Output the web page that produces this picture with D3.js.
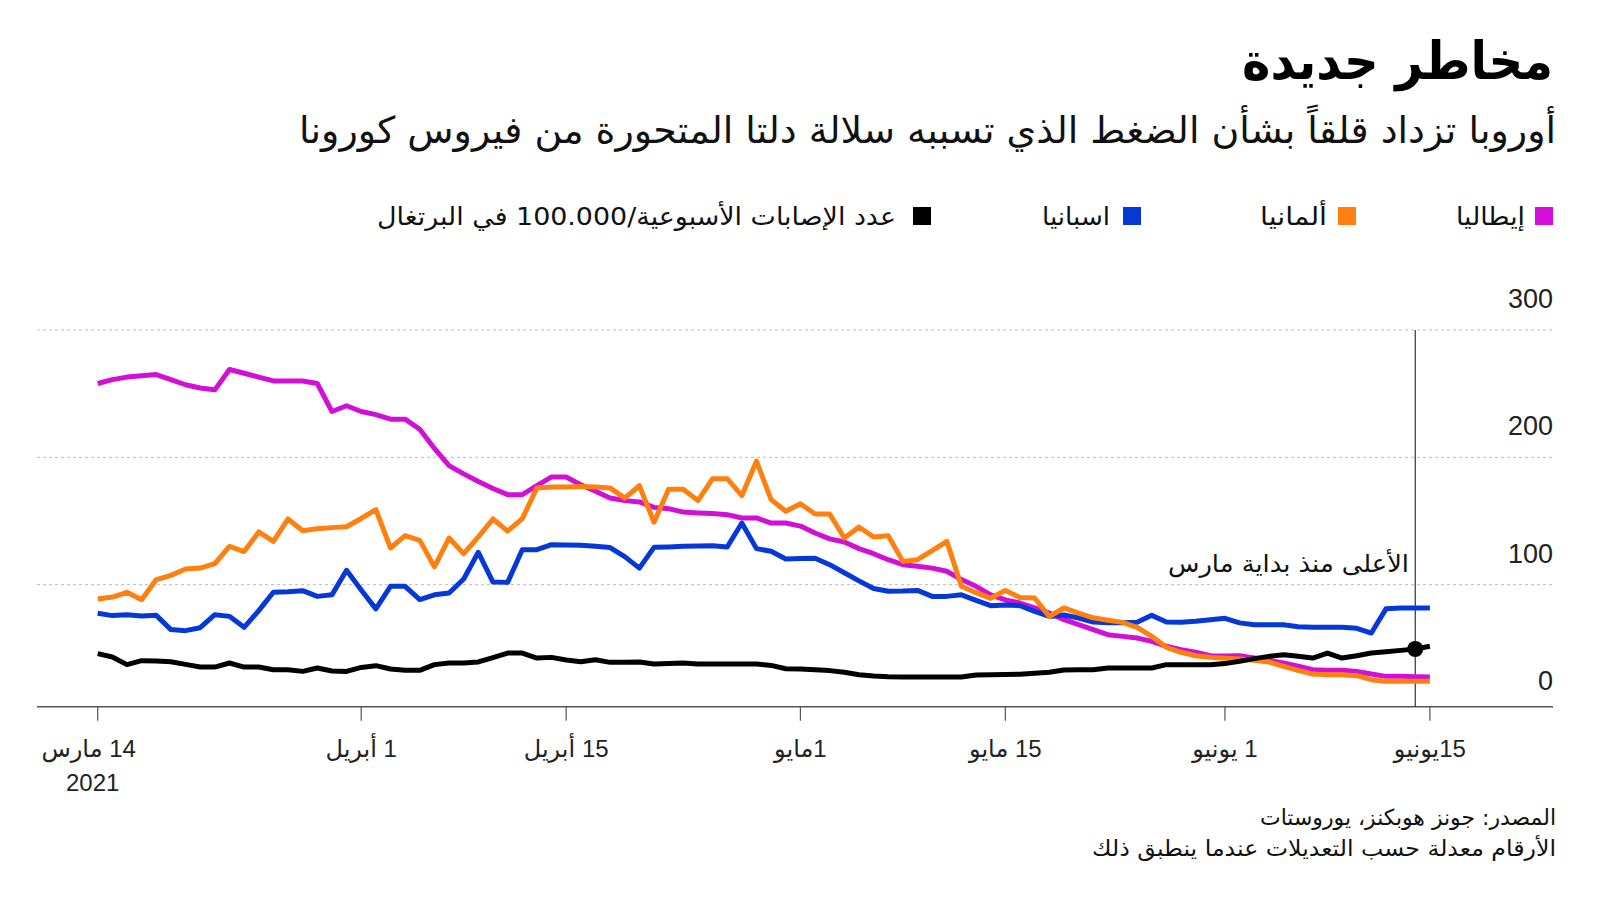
<!DOCTYPE html>
<html><head><meta charset="utf-8">
<script src="https://cdn.jsdelivr.net/npm/d3@7"></script>
<style>html,body{margin:0;padding:0;background:#fff;}svg{display:block;}</style>
</head><body>
<script>
// ---- data (x = day slot index from 14 March 2021) ----
const italy = [258,261,263,264,265,261,257,254.5,253,269,266,263,260,260,260,258,236,240.5,236,233.5,230,230,222,207,193.5,187,181,175.5,170.7,170.7,177.7,184.6,184.6,178.5,173.3,168,166,165,160.7,159.7,157,156.3,155.8,155,152.4,152.4,148.4,148.4,146,140.6,136,133.5,128.3,124.3,119.6,115.7,114.4,113,110.5,104,98.7,92,88,85.6,81.7,77.7,72.5,68.6,64.7,60.7,59.4,58.1,55.5,51.6,49,46.9,44.2,44,44.2,42.4,40.6,38.5,35.9,33.2,32.7,32.7,31.9,29.8,28,28,27.7,27.5];
const germany = [88.7,90.3,94,88.2,104,107.3,112.3,113,116.5,130,126,141.4,134,151.6,142.4,144,144.8,145.5,152,159,128.8,138.5,134.8,114,136.6,124.3,137.5,151.6,142,151.8,176,176.7,176.7,177,176.7,176,168,177.7,149,175,175,166,183.2,183.2,170,197,166.8,157.6,163.6,155.5,155.5,136.6,145.3,137.4,138.5,118.3,119.6,126.7,134,98.7,93.7,89.3,95.5,90,89.5,75,81.7,77.7,74,72,70.4,66.5,59.4,50.8,46.9,44.2,42.9,42.2,41.6,40.6,39.3,35.9,32.7,29.8,29.3,29.3,28.5,25.4,24.1,24.1,24.1,24.1];
const spain = [77.5,75.7,76.4,75.4,75.9,64.7,63.9,66.2,76.4,75.1,66.5,79.6,94,94.5,95.3,90.8,92,111.3,95.8,81,98.7,98.7,88.2,92,93.5,104.5,125.4,102,101.8,127.5,127.5,131.4,131.2,130.9,130.1,129.1,122,113,129.3,129.6,130.1,130.4,130.6,129.6,148.4,128.3,126.2,120.2,120.5,120.7,115.7,109.4,103,97,94.8,95,95.5,90.8,90.8,92,87.7,83.5,84,83.5,79,75,76.2,73.8,70.7,70,70,70.4,75.9,70.7,70.4,71.2,72.5,73.6,70,68.6,68.6,68.6,67,66.5,66.5,66.5,65.7,62,81,81.7,81.7,81.7];
const portugal = [45.8,43.2,37.2,40.3,40.1,39.5,37.4,35.3,35.3,38.5,35.3,35.3,33.2,33.2,31.9,34.6,32.2,31.9,35,36.4,33.8,32.7,32.7,37.2,38.5,38.5,39.3,42.7,46.3,46.3,42.4,42.9,40.8,39.5,41.1,39,39,39.3,37.7,38,38.5,37.7,37.7,37.7,37.7,37.7,36.6,34,33.8,33.2,32.5,31.2,29.3,28.3,27.7,27.5,27.5,27.5,27.5,27.5,29.1,29.3,29.5,29.6,30.4,31.2,33,33.2,33.2,34.6,34.6,34.6,34.6,37.2,37.2,37.2,37.2,38,39.8,41.9,43.7,45,43.7,42.4,46.3,42.4,44.2,46.3,47.4,48.4,49.5,51.6];
const seriesNames = ["إيطاليا", "ألمانيا", "اسبانيا", "عدد الإصابات الأسبوعية/100.000 في البرتغال"];
const seriesColors = ["#d20fd6", "#ff7f0f", "#0638d8", "#000000"];
const tickSlots = [0, 18, 32, 48, 62, 77, 91];
const tickLabels = ["14 مارس", "1 أبريل", "15 أبريل", "1مايو", "15 مايو", "1 يونيو", "15يونيو"];
const yTicks = [0, 100, 200, 300];
const highlightSlot = 90;
const titleText = "مخاطر جديدة";
const subtitleText = "أوروبا تزداد قلقاً بشأن الضغط الذي تسببه سلالة دلتا المتحورة من فيروس كورونا";
const annotationText = "الأعلى منذ بداية مارس";
const sourceText = "المصدر: جونز هوبكنز، يوروستات";
const noteText = "الأرقام معدلة حسب التعديلات عندما ينطبق ذلك";

const RLE = "\u202B", PDF = "\u202C";
const rtl = s => RLE + s + PDF;
const AR = "'DejaVu Sans', sans-serif";
const LAT = "'Liberation Sans', 'DejaVu Sans', sans-serif";

const svg = d3.select("body").append("svg").attr("width", 1600).attr("height", 900);

const x = d3.scaleLinear().domain([0, 91]).range([97.7, 1429.9]);
const y = d3.scaleLinear().domain([0, 300]).range([712, 330]);
const left = 37, right = 1553, axisY = 706.7;

// title
svg.append("text").attr("x", 1553).attr("y", 79).attr("text-anchor", "end")
  .attr("font-family", AR).attr("font-weight", "bold").attr("font-size", 52)
  .attr("textLength", 311).attr("lengthAdjust", "spacingAndGlyphs").text(rtl(titleText));
svg.append("text").attr("x", 1556).attr("y", 143).attr("text-anchor", "end")
  .attr("font-family", AR).attr("font-size", 37).attr("fill", "#111")
  .attr("textLength", 1257).attr("lengthAdjust", "spacingAndGlyphs").text(rtl(subtitleText));

// legend
const legSq = [1535, 1338, 1123, 913];
const legTx = [1525, 1327, 1110, 896];
const legW = [69, 67, 68, 519];
seriesNames.forEach((n, i) => {
  svg.append("rect").attr("x", legSq[i]).attr("y", 207).attr("width", 18).attr("height", 18).attr("fill", seriesColors[i]);
  svg.append("text").attr("x", legTx[i]).attr("y", 225).attr("text-anchor", "end")
    .attr("font-family", AR).attr("font-size", 25).attr("fill", "#111")
    .attr("textLength", legW[i]).attr("lengthAdjust", "spacingAndGlyphs").text(rtl(n));
});

// gridlines
svg.append("g").selectAll("line").data(yTicks.filter(v => v > 0)).join("line")
  .attr("x1", left).attr("x2", right).attr("y1", d => y(d)).attr("y2", d => y(d))
  .attr("stroke", "#bdbdbd").attr("stroke-width", 1).attr("stroke-dasharray", "3,3");
svg.append("g").selectAll("text").data(yTicks).join("text")
  .attr("x", right).attr("y", d => y(d) - 22).attr("text-anchor", "end")
  .attr("font-family", LAT).attr("font-size", 27).attr("fill", "#222").text(d => d);

// x axis
svg.append("line").attr("x1", left).attr("x2", right).attr("y1", axisY).attr("y2", axisY)
  .attr("stroke", "#555").attr("stroke-width", 1.5);
svg.append("g").selectAll("line").data(tickSlots).join("line")
  .attr("x1", d => x(d)).attr("x2", d => x(d)).attr("y1", axisY).attr("y2", axisY + 14)
  .attr("stroke", "#555").attr("stroke-width", 1.2);
svg.append("g").selectAll("text").data(tickSlots).join("text")
  .attr("x", (d, i) => x(d) - (i === 0 ? 9 : 0)).attr("y", 757).attr("text-anchor", "middle")
  .attr("font-family", LAT).attr("font-size", 24).attr("fill", "#222")
  .text((d, i) => rtl(tickLabels[i]));
svg.append("text").attr("x", x(tickSlots[0]) - 5).attr("y", 791).attr("text-anchor", "middle")
  .attr("font-family", LAT).attr("font-size", 24).attr("fill", "#222").text("2021");

// highlight vertical line
svg.append("line").attr("x1", x(highlightSlot)).attr("x2", x(highlightSlot))
  .attr("y1", y(300)).attr("y2", axisY).attr("stroke", "#333").attr("stroke-width", 1.2);

// lines
const line = d3.line().x((d, i) => x(i)).y(d => y(d));
const allSeries = [italy, spain, germany, portugal];
const order = [0, 2, 1, 3];
allSeries.forEach((s, k) => {
  svg.append("path").attr("d", line(s)).attr("fill", "none")
    .attr("stroke", seriesColors[order[k]]).attr("stroke-width", 5)
    .attr("stroke-linejoin", "round").attr("stroke-linecap", "butt");
});
svg.append("circle").attr("cx", x(highlightSlot)).attr("cy", y(portugal[highlightSlot])).attr("r", 8).attr("fill", "#000");

// annotation
svg.append("text").attr("x", 1409).attr("y", 572).attr("text-anchor", "end")
  .attr("font-family", AR).attr("font-size", 24).attr("fill", "#111")
  .attr("textLength", 241).attr("lengthAdjust", "spacingAndGlyphs").text(rtl(annotationText));

// footer
svg.append("text").attr("x", 1556).attr("y", 825).attr("text-anchor", "end")
  .attr("font-family", AR).attr("font-size", 22).attr("fill", "#111")
  .attr("textLength", 296).attr("lengthAdjust", "spacingAndGlyphs").text(rtl(sourceText));
svg.append("text").attr("x", 1556).attr("y", 856).attr("text-anchor", "end")
  .attr("font-family", AR).attr("font-size", 22).attr("fill", "#111")
  .attr("textLength", 464).attr("lengthAdjust", "spacingAndGlyphs").text(rtl(noteText));
</script>
</body></html>
